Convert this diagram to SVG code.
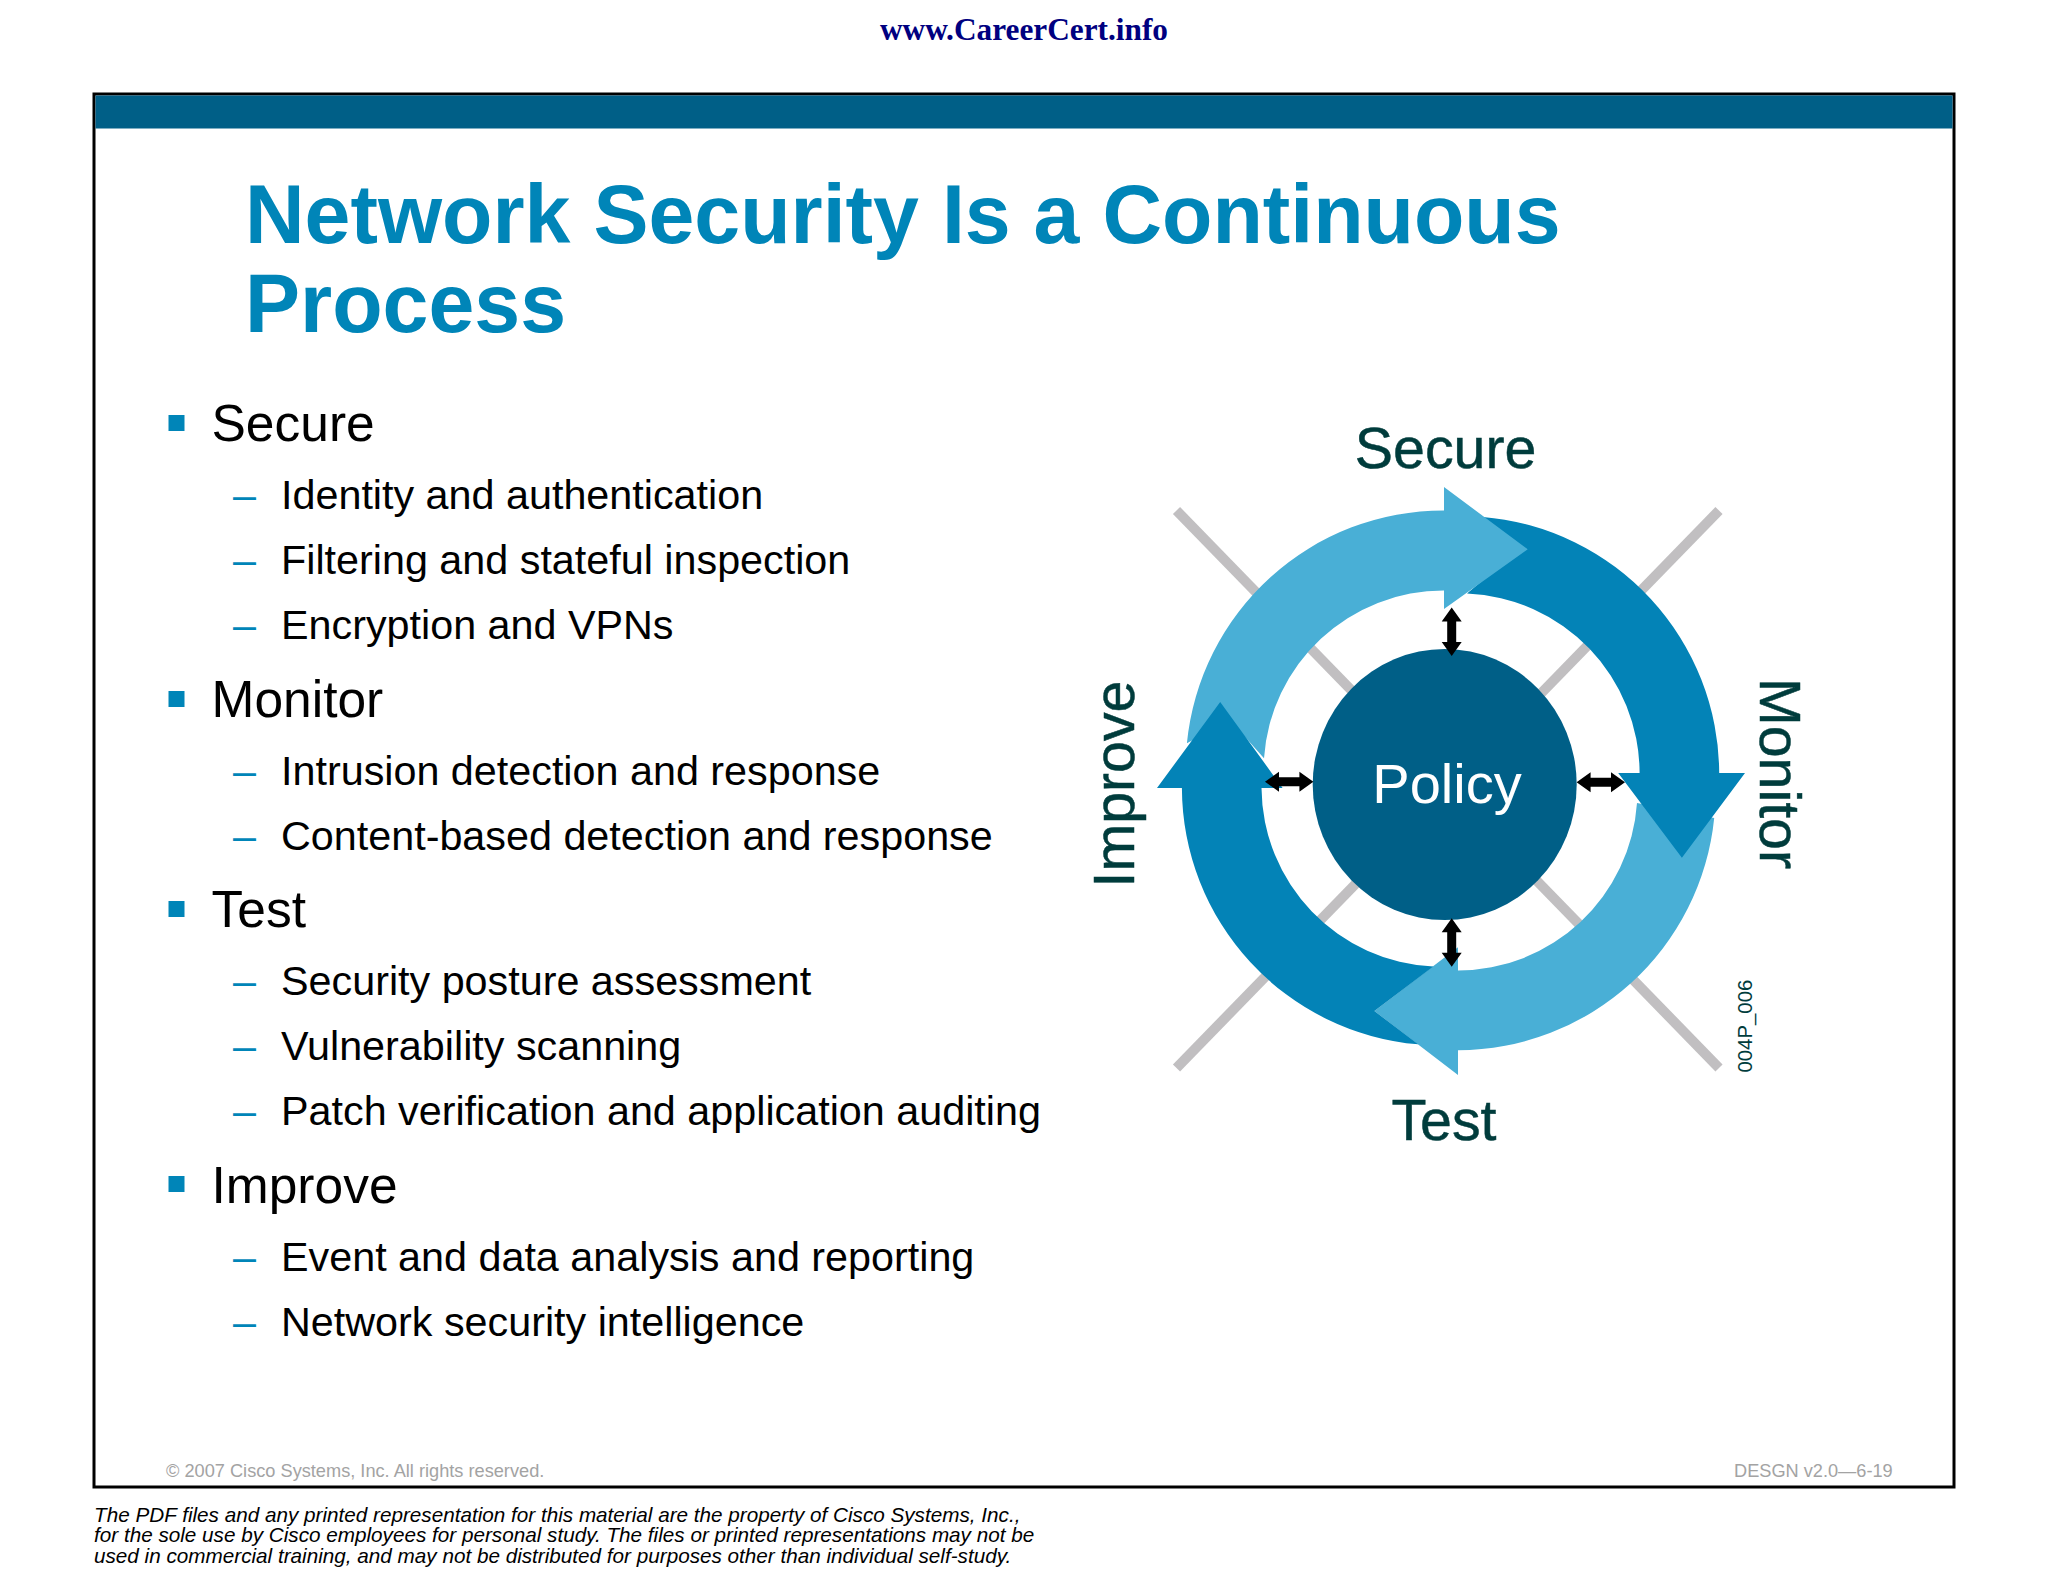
<svg xmlns="http://www.w3.org/2000/svg" width="2048" height="1582" viewBox="0 0 2048 1582">
<style>
text{font-family:"Liberation Sans",Arial,sans-serif}
.h{font-size:51.5px;fill:#000}
.s{font-size:41.3px;fill:#000}
.d{font-size:41.3px;fill:#0085B8}
.b{fill:#0085B8}
.l{font-size:57.3px;fill:#003C3C;text-anchor:middle;stroke:#003C3C;stroke-width:.5}
.g{stroke:#C1BFC1;stroke-width:10;fill:none}
.light{fill:#49AFD6}
.dark{fill:#0383B7}
.foot{font-size:20.7px;font-style:italic;fill:#000}
.gr{font-size:18.2px;fill:#A3A3A3}
</style>
<defs>
<g id="dbl"><path d="M0,-24.200L10,-10.200L4.500,-10.200L4.500,10.200L10,10.200L0,24.200L-10,10.200L-4.500,10.200L-4.500,-10.200L-10,-10.200Z" fill="#000"/></g>
</defs>
<rect width="2048" height="1582" fill="#fff"/>
<text x="1024" y="40" text-anchor="middle" style="font-family:'Liberation Serif',serif;font-weight:bold;font-size:31.3px;fill:#000080">www.CareerCert.info</text>
<g id="slide">
<rect x="94" y="94" width="1860" height="1393" fill="#fff" stroke="#000" stroke-width="3"/>
<rect x="95.500" y="95.500" width="1857" height="33" fill="#005F87"/>
</g>
<g id="title" style="font-weight:bold;font-size:82.500px;fill:#0085B8">
<text x="245" y="243">Network Security Is a Continuous</text>
<text x="245" y="332">Process</text>
</g>
<g id="list">
<rect class="b" x="168.500" y="415" width="16" height="16"/><text class="h" x="211.500" y="441">Secure</text>
<text class="d" x="233" y="508.500">–</text><text class="s" x="281" y="508.500">Identity and authentication</text>
<text class="d" x="233" y="573.500">–</text><text class="s" x="281" y="573.500">Filtering and stateful inspection</text>
<text class="d" x="233" y="638.800">–</text><text class="s" x="281" y="638.800">Encryption and VPNs</text>
<rect class="b" x="168.500" y="691" width="16" height="16"/><text class="h" x="211.500" y="717">Monitor</text>
<text class="d" x="233" y="784.500">–</text><text class="s" x="281" y="784.500">Intrusion detection and response</text>
<text class="d" x="233" y="849.500">–</text><text class="s" x="281" y="849.500">Content-based detection and response</text>
<rect class="b" x="168.500" y="901" width="16" height="16"/><text class="h" x="211.500" y="927">Test</text>
<text class="d" x="233" y="994.500">–</text><text class="s" x="281" y="994.500">Security posture assessment</text>
<text class="d" x="233" y="1059.500">–</text><text class="s" x="281" y="1059.500">Vulnerability scanning</text>
<text class="d" x="233" y="1124.500">–</text><text class="s" x="281" y="1124.500">Patch verification and application auditing</text>
<rect class="b" x="168.500" y="1176" width="16" height="16"/><text class="h" x="211.500" y="1203">Improve</text>
<text class="d" x="233" y="1270.500">–</text><text class="s" x="281" y="1270.500">Event and data analysis and reporting</text>
<text class="d" x="233" y="1335.500">–</text><text class="s" x="281" y="1335.500">Network security intelligence</text>
</g>
<g id="connectors">
<path class="g" d="M1176.500,510.500L1719,1068"/>
<path class="g" d="M1719,510.500L1176.500,1068"/>
</g>
<g id="arrow-test"><path class="light" d="M1714.200,817.900A258,258 0 0 1 1458,1050.200L1458,1075L1374.400,1011L1458,947.300L1458,970.600A180,180 0 0 0 1637,803Z"/></g>
<g id="arrow-monitor"><path class="dark" d="M1482.900,516.900A258,258 0 0 1 1719.200,773L1745,773L1681.900,857.700L1618.200,773L1639.600,773A180,180 0 0 0 1467,593.500L1520,549Z"/></g>
<g id="arrow-secure"><path class="light" d="M1186.900,743.300A258,258 0 0 1 1444,510.400L1444,487L1527.700,549.300L1444,609L1444,590.500A180,180 0 0 0 1264,758.200L1230,720Z"/></g>
<g id="arrow-improve"><path class="dark" d="M1418.200,1044.300A258,258 0 0 1 1181.900,788L1157,788L1220.200,702L1282.600,788L1261.500,788A180,180 0 0 0 1433.300,966.500L1374.400,1011Z"/></g>
<g id="policy">
<ellipse cx="1444.700" cy="784.500" rx="132" ry="135.500" fill="#005F87"/>
<text x="1447" y="802.500" text-anchor="middle" style="font-size:56px;fill:#fff">Policy</text>
</g>
<g id="links">
<use href="#dbl" x="1451.700" y="631.700"/>
<use href="#dbl" x="1451.700" y="942.500"/>
<use href="#dbl" transform="translate(1289.200,781.700) rotate(90)"/>
<use href="#dbl" transform="translate(1600.800,782.300) rotate(90)"/>
</g>
<g id="label-secure"><text class="l" x="1445.600" y="467.500">Secure</text></g>
<g id="label-monitor"><text class="l" transform="translate(1760,773.500) rotate(90)">Monitor</text></g>
<g id="label-test"><text class="l" x="1444" y="1140">Test</text></g>
<g id="label-improve"><text class="l" transform="translate(1133.500,784) rotate(-90)">Improve</text></g>
<text transform="translate(1751.600,1072.600) rotate(-90)" style="font-size:20.400px;fill:#003C3C">004P_006</text>
<text class="gr" x="166" y="1477">© 2007 Cisco Systems, Inc. All rights reserved.</text>
<text class="gr" x="1734" y="1477">DESGN v2.0—6-19</text>
<g id="footer">
<text class="foot" x="94" y="1521.500">The PDF files and any printed representation for this material are the property of Cisco Systems, Inc.,</text>
<text class="foot" x="94" y="1542">for the sole use by Cisco employees for personal study. The files or printed representations may not be</text>
<text class="foot" x="94" y="1562.500">used in commercial training, and may not be distributed for purposes other than individual self-study.</text>
</g>
</svg>
